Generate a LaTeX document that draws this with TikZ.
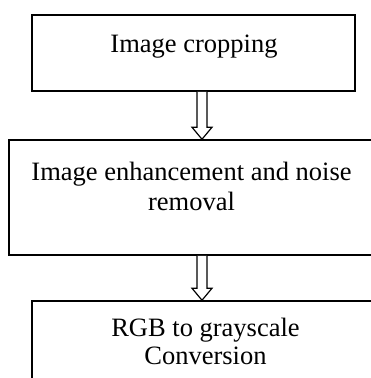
\documentclass[tikz,border=0pt]{standalone}
\usepackage{fontspec}
\setmainfont{Liberation Serif}
\usetikzlibrary{calc}
\begin{document}
\begin{tikzpicture}[x=1pt,y=-1pt,
  stagebox/.style={draw=black,line width=1.5pt,fill=white,rectangle,inner sep=0pt},
  stagetext/.style={inner sep=0pt,anchor=base,align=center,
    font=\fontsize{26.5}{30}\selectfont},
  blockarr/.style={draw=black,line width=1.2pt,fill=white,line join=miter}]
  % page frame; boxes running past the edge are cut off here
  \clip (0,0) rectangle (371,378);
  \fill[white] (0,0) rectangle (371,378);

  % stage boxes
  \node[stagebox,minimum width=323pt,minimum height=76pt] (b1) at (193.5,53) {};
  \node[stagebox,minimum width=365pt,minimum height=115pt] (b2) at (191.5,197.5) {};
  \node[stagebox,minimum width=346pt,minimum height=99pt] (b3) at (205,350.5) {};

  % stage labels (base anchor = baseline of the last line)
  \node[stagetext] (t1) at (194,52) {Image cropping};
  \node[stagetext] (t2) at (191.5,210) {Image enhancement and noise\\removal};
  \node[stagetext,font=\fontsize{26.5}{28}\selectfont] (t3) at (205.5,364) {RGB to grayscale\\Conversion};

  % hollow block arrows between stages
  \coordinate (ax) at (202,0);
  \foreach \src/\dst in {b1/b2, b2/b3}{
    \draw[blockarr]
      ($(\src.south -| ax)+(-5,0)$) -- ($(\dst.north -| ax)+(-5,-12)$) -- ($(\dst.north -| ax)+(-10,-12)$)
      -- (\dst.north -| ax) -- ($(\dst.north -| ax)+(10,-12)$) -- ($(\dst.north -| ax)+(5,-12)$)
      -- ($(\src.south -| ax)+(5,0)$);
  }
\end{tikzpicture}
\end{document}
